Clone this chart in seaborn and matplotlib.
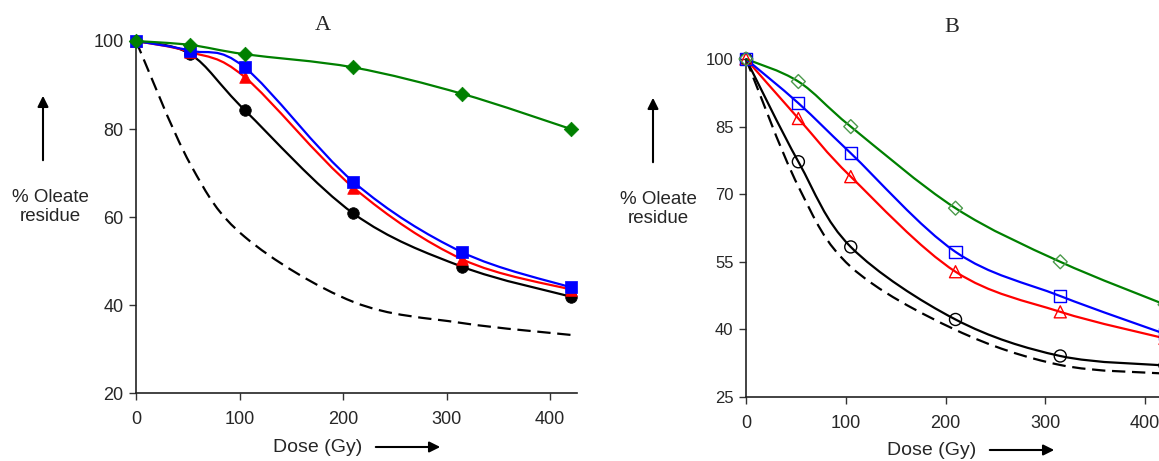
import matplotlib
matplotlib.use("Agg")
import matplotlib.pyplot as plt
import seaborn as sns
from matplotlib.path import Path
from matplotlib.patches import PathPatch

# dose points (Gy)
dose = [0, 52.5, 105, 210, 315, 420]

# panel A (% oleate residue)
a_green = [100, 99.1, 97.0, 94.0, 88.0, 80.0]
a_blue = [100, 97.8, 94.0, 68.0, 52.0, 44.0]
a_red = [100, 97.5, 91.8, 66.7, 50.4, 43.5]
a_black = [100, 97.0, 84.3, 60.8, 48.7, 41.9]
a_dashed = [100, 72.0, 55.5, 40.7, 35.9, 33.2]

# panel B
b_green = [100, 95.0, 85.0, 66.9, 55.0, 45.5]
b_blue = [100, 90.2, 79.1, 57.2, 47.4, 39.0]
b_red = [100, 86.8, 73.9, 52.8, 43.9, 38.0]
b_black = [100, 77.2, 58.3, 42.2, 34.1, 32.0]
b_dashed = [100, 71.7, 53.9, 39.9, 32.1, 30.2]

a_yticks = [20, 40, 60, 80, 100]
b_yticks = [25, 40, 55, 70, 85, 100]
xticks = [0, 100, 200, 300, 400]

sns.set_style("ticks")
plt.rcParams["font.family"] = ["Liberation Sans", "DejaVu Sans"]

W, H = 1159, 461
fig = plt.figure(figsize=(W / 100, H / 100), dpi=100)


def px(x, y):
    return x / W, 1 - y / H


def smooth_curve(ax, xs, ys, color, ls="-"):
    # Excel-like smoothed line: Catmull-Rom segments as cubic Bezier curves
    pts = list(zip(xs, ys))
    n = len(pts)
    verts = [pts[0]]
    codes = [Path.MOVETO]
    for i in range(n - 1):
        p0 = pts[i - 1] if i > 0 else pts[i]
        p1, p2 = pts[i], pts[i + 1]
        p3 = pts[i + 2] if i + 2 < n else pts[i + 1]
        c1 = (p1[0] + (p2[0] - p0[0]) / 6, p1[1] + (p2[1] - p0[1]) / 6)
        c2 = (p2[0] - (p3[0] - p1[0]) / 6, p2[1] - (p3[1] - p1[1]) / 6)
        verts += [c1, c2, p2]
        codes += [Path.CURVE4] * 3
    patch = PathPatch(Path(verts, codes), facecolor="none", edgecolor=color,
                      lw=1.6, linestyle=ls, clip_on=False, zorder=2)
    if ls != "-":
        patch.set_linestyle((0, (6, 3)))
    ax.add_patch(patch)


def style_axes(ax, yticks, ylim, ytick_size):
    ax.set_xlim(0, 426)
    ax.set_ylim(*ylim)
    ax.set_xticks(xticks)
    ax.set_yticks(yticks)
    ax.tick_params(axis="x", labelsize=13, length=5, width=1, pad=8, color="#333333")
    ax.tick_params(axis="y", labelsize=ytick_size, length=5, width=1, pad=4, color="#333333")
    for s in ["top", "right"]:
        ax.spines[s].set_visible(False)
    for s in ["left", "bottom"]:
        ax.spines[s].set_color("#222222")
        ax.spines[s].set_linewidth(1.2)
    ax.set_xlabel("")
    ax.set_ylabel("")


# ---------- panel A ----------
axA = fig.add_axes([136 / W, 1 - 393 / H, 441 / W, 352 / H])
smooth_curve(axA, dose, a_dashed, "black", ls="--")
series_a = [(a_black, "black", "o"), (a_red, "red", "^"),
            (a_blue, "blue", "s"), (a_green, "green", "D")]
for vals, col, mk in series_a:
    smooth_curve(axA, dose, vals, col)
    sns.scatterplot(x=dose, y=vals, ax=axA, marker=mk, color=col, s=70 if mk != "D" else 55,
                    edgecolor=col, linewidth=0.5, zorder=3, clip_on=False)
style_axes(axA, a_yticks, (20, 100), 13)

# ---------- panel B ----------
axB = fig.add_axes([746 / W, 1 - 397 / H, 425 / W, 338 / H])
smooth_curve(axB, dose, b_dashed, "black", ls="--")
series_b = [(b_black, "black", "o"), (b_red, "red", "^"),
            (b_blue, "blue", "s"), (b_green, "green", "D")]
for vals, col, mk in series_b:
    smooth_curve(axB, dose, vals, col)
    sns.scatterplot(x=dose, y=vals, ax=axB, marker=mk, s=75 if mk != "D" else 50,
                    facecolor="none", edgecolor="#4c9a4c" if col == "green" else col,
                    linewidth=1.0, zorder=3, clip_on=False)
style_axes(axB, b_yticks, (25, 100), 12)

# ---------- titles, labels, arrows ----------
fig.text(*px(323, 25), "A", ha="center", va="center", fontsize=16, family="Liberation Serif")
fig.text(*px(952, 27), "B", ha="center", va="center", fontsize=16, family="Liberation Serif")

for cx, cy in [(50, 207), (658, 209)]:
    fig.text(*px(cx, cy), "% Oleate\nresidue", ha="center", va="center", fontsize=13.5,
             linespacing=1.15)

for x, y0, y1 in [(43, 163, 93), (653, 165, 95)]:
    fig.patches.append(matplotlib.patches.FancyArrowPatch(
        px(x, y0), px(x, y1), transform=fig.transFigure, arrowstyle="-|>",
        mutation_scale=16, lw=1.5, color="black"))

for cx, cy, ax0, ax1 in [(318, 447, 373, 443), (932, 450, 987, 1057)]:
    fig.text(*px(cx, cy), "Dose (Gy)", ha="center", va="center", fontsize=14)
    fig.patches.append(matplotlib.patches.FancyArrowPatch(
        px(ax0, cy), px(ax1, cy), transform=fig.transFigure, arrowstyle="-|>",
        mutation_scale=16, lw=1.5, color="black"))

fig.savefig("out.png", dpi=100)
